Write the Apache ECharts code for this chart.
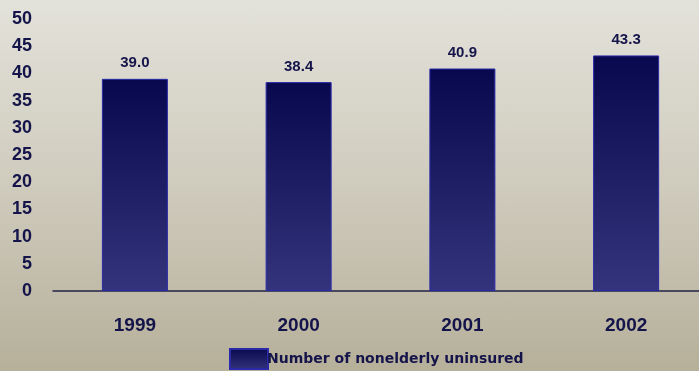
<!DOCTYPE html>
<html><head><meta charset="utf-8">
<script src="https://cdn.jsdelivr.net/npm/echarts@6/dist/echarts.min.js"></script>
<style>html,body{margin:0;padding:0;}#c{width:699px;height:371px;background:linear-gradient(to bottom,#e3e2da 0%,#cfcbbd 50%,#b6b09a 100%);}</style>
</head><body><div id="c"></div>
<script>
var categories = ['1999','2000','2001','2002'];
var values = [39.0, 38.4, 40.9, 43.3];
var seriesName = 'Number of nonelderly uninsured';
var chart = echarts.init(document.getElementById('c'));
var txt = '#14144a';
chart.setOption({
  backgroundColor: 'transparent',
  animation: false,
  grid: {left: 53, right: -9, top: 19, bottom: 80, containLabel: false, outerBoundsMode: 'none'},
  legend: {
    bottom: -4, left: 224, itemWidth: 38, itemHeight: 20, itemGap: 4, icon: 'rect',
    textStyle: {color: txt, fontWeight: 'bold', fontSize: 14, fontFamily: 'DejaVu Sans', padding:[0,0,0,-6]},
    data: [seriesName]
  },
  xAxis: {
    type: 'category', data: categories,
    axisLine: {lineStyle: {color: '#222244', width: 1.5}},
    axisTick: {show: false},
    axisLabel: {color: txt, fontWeight: 'bold', fontSize: 19, fontFamily: 'Liberation Sans', margin: 25}
  },
  yAxis: {
    type: 'value', min: 0, max: 50, interval: 5,
    axisLine: {show: false}, axisTick: {show: false}, splitLine: {show: false},
    axisLabel: {color: txt, fontWeight: 'bold', fontSize: 18, fontFamily: 'Liberation Sans', margin: 21, align: 'right'}
  },
  series: [{
    name: seriesName, type: 'bar', data: values, barWidth: 66,
    itemStyle: {
      color: new echarts.graphic.LinearGradient(0,0,0,1,[{offset:0,color:'#08084e'},{offset:1,color:'#34347c'}]),
      borderColor: '#2a2aa8', borderWidth: 1
    },
    label: {show: true, position: 'top', distance: 8, color: txt, fontWeight: 'bold', fontSize: 15, fontFamily: 'Liberation Sans',
      formatter: function(p){return p.value.toFixed(1);}}
  }]
});
</script></body></html>
